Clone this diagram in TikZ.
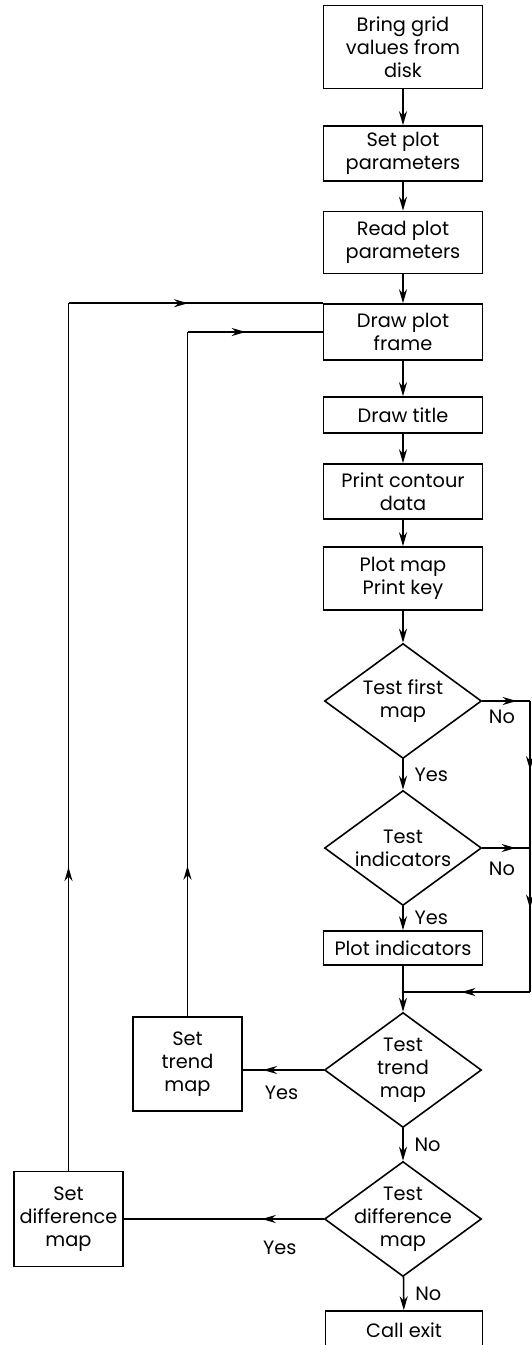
\documentclass[tikz,border=0pt]{standalone}
\usepackage{fontspec}
\setmainfont{Poppins}
\usetikzlibrary{arrows.meta,shapes.geometric,decorations.markings}

\begin{document}
\begin{tikzpicture}[>={Stealth[length=2.8mm,width=1.6mm]},x=0.2mm,y=-0.2mm,line width=0.9pt,
	every node/.style={font=\fontsize{11}{13}\selectfont},
	box/.style={draw,align=center,minimum width=31.8mm},
	dec/.style={draw,diamond,inner sep=0pt,minimum width=31.4mm,minimum height=23mm},
	flow/.style={postaction={decorate},decoration={markings,mark=at position #1 with {\arrow{>}}}}]
	\useasboundingbox (0,0) rectangle (532,1345);
	\node[box,minimum height=16.6mm] (b1) at (403,47) {Bring grid\\values from\\disk};
	\node[box,minimum height=11mm] (b2) at (403,153.5) {Set plot\\parameters};
	\node[box,minimum height=12.4mm] (b3) at (403,242.5) {Read plot\\parameters};
	\node[box,minimum height=11.2mm] (b4) at (403,332) {Draw plot\\frame};
	\node[box,minimum height=7.2mm] (b5) at (403,415) {Draw title};
	\node[box,minimum height=11mm] (b6) at (403,491.5) {Print contour\\data};
	\node[box,minimum height=12.6mm] (b7) at (403,578.5) {Plot map\\Print key};
	\node[dec,label={[align=center]center:Test first\\map}] (q1) at (403,701) {};
	\node[dec,label={[align=center]center:Test\\indicators}] (q2) at (403,848) {};
	\node[box,minimum height=6.8mm] (pi) at (403,948) {Plot indicators};
	\node[dec,label={[align=center]center:Test\\trend\\map}] (q3) at (403,1070) {};
	\node[dec,label={[align=center]center:Test\\difference\\map}] (q4) at (403,1219) {};
	\node[box,minimum width=31.4mm,minimum height=7.6mm] (ex) at (404,1330) {Call exit};
	\node[box,minimum width=21.8mm,minimum height=18.8mm] (st) at (187.5,1064) {Set\\trend\\map};
	\node[box,minimum width=21.8mm,minimum height=19mm] (sd) at (68.5,1219) {Set\\difference\\map};

	\foreach \a/\b in {b1/b2,b2/b3,b3/b4,b4/b5,b5/b6,b6/b7,b7/q1,pi/q3}
		\draw[->] (\a) -- (\b);
	\draw[->] (q1) -- node[midway,right,xshift=1mm]{Yes} (q2);
	\draw[->] (q2) -- node[midway,right,xshift=1mm]{Yes} (pi);
	\draw[->] (q3) -- node[midway,right,xshift=1mm]{No} (q4);
	\draw[->] (q4) -- node[midway,right,xshift=1mm]{No} (ex);

	\coordinate (r1) at (530,701);
	\coordinate (r2) at (530,848);
	\coordinate (r3) at (530,992);
	\coordinate (jn) at (pi.south |- r3);
	\draw[flow=0.72] (q1.east) node[below right,yshift=-0.4mm]{No} -- (r1);
	\draw[flow=0.47] (r1) -- (r2);
	\draw[flow=0.7] (q2.east) node[below right,yshift=-1.4mm]{No} -- (r2);
	\draw[flow=0.42] (r2) -- (r3);
	\draw[flow=0.54] (r3) -- (jn);

	\draw[flow=0.75] (q3.west) -- node[pos=0.52,below,yshift=-1.8mm]{Yes} (q3.west -| st.east);
	\draw[flow=0.31] (q4.west) -- node[pos=0.22,below,yshift=-3mm]{Yes} (q4.west -| sd.east);

	\coordinate (t1) at (st.north |- b4.west);
	\coordinate (t2) at (sd.north |- b4.north);
	\draw[flow=0.22] (st.north) -- (t1);
	\draw[flow=0.43] (t1) -- (b4.west);
	\draw[flow=0.35] (sd.north) -- (t2);
	\draw[flow=0.47] (t2) -- (b4.north west);
\end{tikzpicture}
\end{document}
